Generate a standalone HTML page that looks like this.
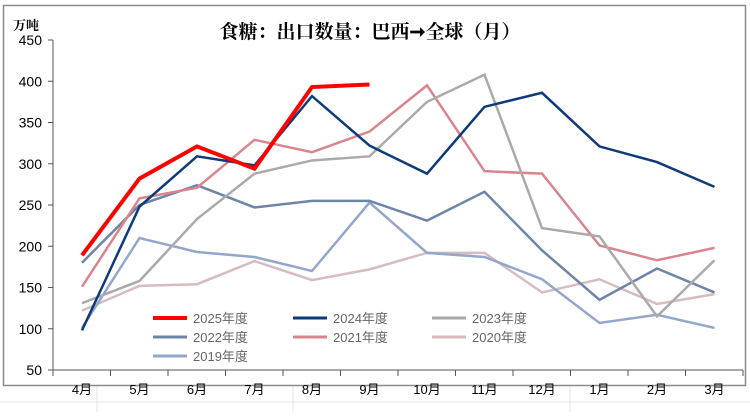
<!DOCTYPE html>
<html><head><meta charset="utf-8"><style>
body{margin:0;background:#fff;width:750px;height:412px;overflow:hidden;font-family:"Liberation Sans","Noto Sans CJK SC",sans-serif}
</style></head><body>
<svg id="s" width="750" height="412" xmlns="http://www.w3.org/2000/svg" font-family="Liberation Sans, Noto Sans CJK SC, sans-serif">
<rect x="0" y="0" width="750" height="412" fill="#fff"/>
<line x1="0" y1="402" x2="750" y2="402" stroke="#e4e4e4"/>
<line x1="97" y1="386" x2="97" y2="412" stroke="#e4e4e4"/>
<line x1="293" y1="386" x2="293" y2="412" stroke="#e4e4e4"/>
<line x1="570" y1="386" x2="570" y2="412" stroke="#e4e4e4"/>
<rect x="3.5" y="5.5" width="742" height="380" fill="#fff" stroke="#8c8c8c" stroke-width="1.5"/>
<text x="370" y="38" text-anchor="middle" font-family="Noto Serif CJK SC, serif" font-weight="bold" font-size="19">食糖：出口数量：巴西➞全球（月）</text>
<text x="13" y="30" font-family="Noto Serif CJK SC, serif" font-weight="bold" font-size="13">万吨</text>
<g id="ax"></g>
<g id="lines"></g>
<g font-size="13" fill="#666">
<line x1="153" y1="318" x2="187" y2="318" stroke="#ff0000" stroke-width="4"/><text x="193" y="323">2025年度</text>
<line x1="293" y1="318" x2="327" y2="318" stroke="#0e3a7a" stroke-width="3"/><text x="333" y="323">2024年度</text>
<line x1="432" y1="318" x2="466" y2="318" stroke="#aaaaaa" stroke-width="3"/><text x="472" y="323">2023年度</text>
<line x1="153" y1="337" x2="187" y2="337" stroke="#6e84a8" stroke-width="3"/><text x="193" y="342">2022年度</text>
<line x1="293" y1="337" x2="327" y2="337" stroke="#d9858d" stroke-width="3"/><text x="333" y="342">2021年度</text>
<line x1="432" y1="337" x2="466" y2="337" stroke="#d6bcc0" stroke-width="3"/><text x="472" y="342">2020年度</text>
<line x1="153" y1="356" x2="187" y2="356" stroke="#93a6cc" stroke-width="3"/><text x="193" y="361">2019年度</text>
</g>
</svg>
<script>
var ns="http://www.w3.org/2000/svg";
function Y(v){return 370-(v-50)*0.825}
function X(i){return 82+i*57.5}
function el(p,t,a,txt){var e=document.createElementNS(ns,t);for(var k in a)e.setAttribute(k,a[k]);if(txt!=null)e.textContent=txt;p.appendChild(e);return e}
var ax=document.getElementById('ax');
el(ax,'line',{x1:53,y1:40,x2:53,y2:370,stroke:'#555'});
el(ax,'line',{x1:53,y1:370,x2:743,y2:370,stroke:'#555'});
for(var v=50;v<=450;v+=50){var y=Y(v);el(ax,'line',{x1:48,y1:y,x2:53,y2:y,stroke:'#555'});el(ax,'text',{x:42,y:y+5,'text-anchor':'end','font-size':'14'},v);}
var m=['4月','5月','6月','7月','8月','9月','10月','11月','12月','1月','2月','3月'];
for(var i=0;i<=12;i++){var x=53+i*57.5;el(ax,'line',{x1:x,y1:370,x2:x,y2:376,stroke:'#555'});}
for(var i=0;i<12;i++)el(ax,'text',{x:X(i),y:394,'text-anchor':'middle','font-size':'13'},m[i]);
var S=[
['#d6bcc0',2.5,[122,152,154,182,159,172,192,192,144,160,130,142]],
['#93a6cc',2.5,[101,210,193,187,170,253,192,187,160,107,117,101]],
['#6e84a8',2.5,[180,250,274,247,255,255,231,266,195,135,173,144]],
['#d9858d',2.5,[151,258,271,329,314,339,395,291,288,201,183,198]],
['#aaaaaa',2.5,[131,158,233,288,304,309,375,408,222,212,115,183]],
['#0e3a7a',2.5,[98,248,309,298,382,322,288,369,386,321,302,272]],
['#ff0000',4,[189,282,321,294,393,396]]];
var g=document.getElementById('lines');
S.forEach(function(s){el(g,'polyline',{points:s[2].map(function(v,i){return X(i)+','+Y(v)}).join(' '),fill:'none',stroke:s[0],'stroke-width':s[1],'stroke-linejoin':'miter'});});
</script>
</body></html>
